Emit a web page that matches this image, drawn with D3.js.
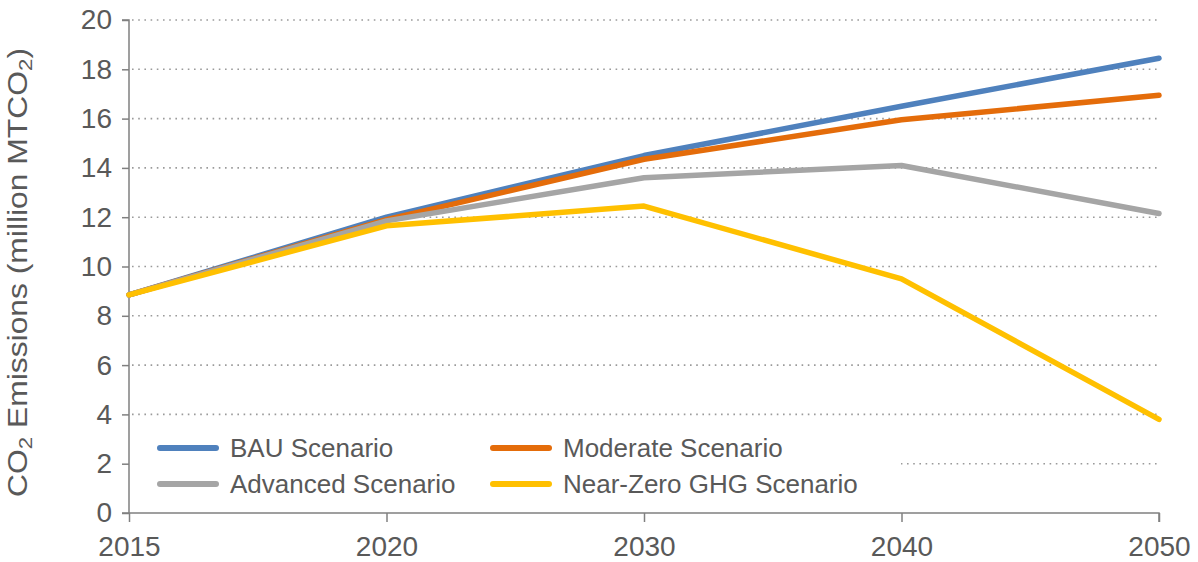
<!DOCTYPE html>
<html><head><meta charset="utf-8">
<script src="https://cdn.jsdelivr.net/npm/d3@7"></script>
<style>
html,body{margin:0;padding:0;background:#fff;}
text{font-family:"Liberation Sans",Arial,Helvetica,sans-serif;fill:#595959;}
</style></head>
<body><svg id="chart" width="1198" height="562"></svg>
<script>
const years = ["2015","2020","2030","2040","2050"];
const yTicks = [0,2,4,6,8,10,12,14,16,18,20];
const seriesNames = ["BAU Scenario","Moderate Scenario","Advanced Scenario","Near-Zero GHG Scenario"];
const seriesColors = ["#4f81bd","#e46c0a","#a5a5a5","#ffc000"];
const bau = [8.85, 12.0, 14.5, 16.5, 18.45];
const moderate = [8.85, 11.9, 14.35, 15.95, 16.95];
const advanced = [8.85, 11.85, 13.6, 14.1, 12.15];
const nearZero = [8.85, 11.65, 12.45, 9.5, 3.8];
const seriesValues = [bau, moderate, advanced, nearZero];

const svg = d3.select("#chart");
const m = {l:129, r:1159, t:20, b:513};
const x = d3.scalePoint().domain(years).range([m.l, m.r]);
const y = d3.scaleLinear().domain([0,20]).range([m.b, m.t]);
const axisColor = "#808080";

// gridlines
svg.append("g").selectAll("line").data(yTicks.filter(d=>d>0)).join("line")
  .attr("x1", m.l+3).attr("x2", m.r).attr("y1", d=>y(d)).attr("y2", d=>y(d))
  .attr("stroke","#9a9a9a").attr("stroke-width",1.6)
  .attr("stroke-dasharray","1.6,4.6").attr("stroke-linecap","butt");

// legend background (covers gridline)
const legend = svg.append("g");
legend.append("rect").attr("x", m.l+2).attr("y", y(2)-44).attr("width", 770).attr("height", 82).attr("fill","#fff");

// axes
const yAxis = svg.append("g").attr("transform",`translate(${m.l},0)`)
  .call(d3.axisLeft(y).tickValues(yTicks).tickSize(7).tickPadding(10));
const xAxis = svg.append("g").attr("transform",`translate(0,${m.b})`)
  .call(d3.axisBottom(x).tickSize(9).tickPadding(14));
[yAxis,xAxis].forEach(a=>{
  a.select(".domain").attr("stroke",axisColor).attr("stroke-width",1.5);
  a.selectAll(".tick line").attr("stroke",axisColor).attr("stroke-width",1.5);
  a.selectAll("text").attr("font-size",28).attr("fill","#595959")
    .style("font-family",'"Liberation Sans",Arial,sans-serif');
});
yAxis.select(".domain").attr("d",`M-7,${y(20)}H0V${y(0)}`);
xAxis.select(".domain").attr("d",`M${m.l-7},0H${m.r}V9`);
xAxis.selectAll("text").attr("dy","0.71em");

// y title
const yt = svg.append("text")
  .attr("transform",`translate(27,${(48+497)/2}) rotate(-90)`)
  .attr("text-anchor","middle").attr("font-size",27)
  .attr("textLength",449).attr("lengthAdjust","spacingAndGlyphs");
yt.append("tspan").text("CO");
yt.append("tspan").attr("font-size",19).attr("dy",5).text("2");
yt.append("tspan").attr("dy",-5).text(" Emissions (million MTCO");
yt.append("tspan").attr("font-size",19).attr("dy",5).text("2");
yt.append("tspan").attr("dy",-5).text(")");

// lines
const line = d3.line().x((d,i)=>x(years[i])).y(d=>y(d));
svg.append("g").selectAll("path").data(seriesValues).join("path")
  .attr("d", line).attr("fill","none")
  .attr("stroke",(d,i)=>seriesColors[i]).attr("stroke-width",5.5)
  .attr("stroke-linejoin","round").attr("stroke-linecap","round");

// legend items: BAU (col0,row0), Moderate (col1,row0), Advanced (col0,row1), Near-Zero (col1,row1)
const legX = [160, 493], legY = [448, 484];
const items = legend.selectAll("g.item").data(seriesNames).join("g")
  .attr("transform",(d,i)=>`translate(${legX[i%2]},${legY[i<2?0:1]})`);
items.append("line").attr("x1",0).attr("x2",56).attr("y1",0).attr("y2",0)
  .attr("stroke",(d,i)=>seriesColors[i]).attr("stroke-width",6).attr("stroke-linecap","round");
items.append("text").attr("x",70).attr("y",0).attr("dy","0.35em").attr("font-size",26).text(d=>d);
</script></body></html>
